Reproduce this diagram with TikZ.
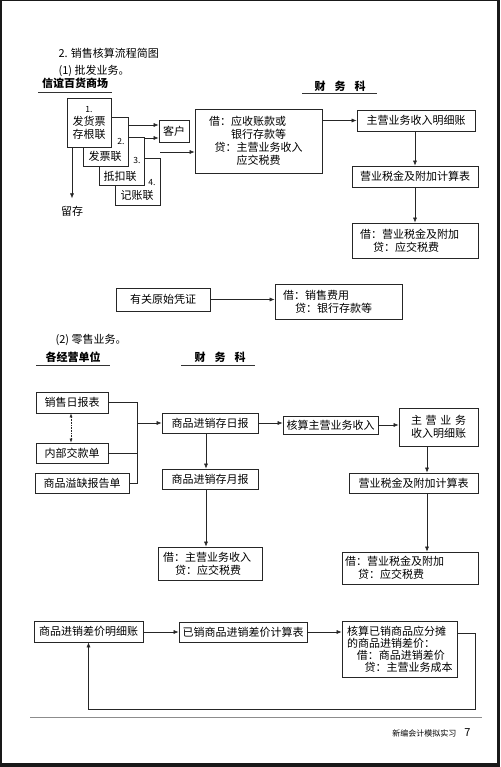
\documentclass[tikz,border=0pt]{standalone}
\usepackage{fontspec}
\setmainfont{Noto Sans CJK SC}
\usetikzlibrary{arrows.meta}

\tikzset{
  box/.style={draw=black!85, line width=0.7pt, fill=white, inner sep=1pt, align=center},
  arr/.style={draw=black!85, line width=0.6pt, -{Latex[length=5pt, width=4pt]}},
  darr/.style={draw=black!85, line width=0.6pt, densely dotted,
    {Latex[length=4pt, width=3pt]}-{Latex[length=4pt, width=3pt]}},
  wire/.style={draw=black!85, line width=0.6pt},
  num/.style={font=\fontsize{8.5}{10}\selectfont},
  head/.style={anchor=west},
  rule/.style={draw=black!80, line width=0.6pt},
}

\begin{document}
\begin{tikzpicture}[x=1pt, y=-1pt, font=\fontsize{11}{13}\selectfont]

    % Page frame
    \fill[black!90] (0,0) rectangle (500,767);
    \fill[white] (2,1.5) rectangle (497,763);
    \useasboundingbox (0,0) rectangle (500,767);

    % Headings
    \node[head] (title) at (55,53) {2. 销售核算流程简图};
    \node[head] (pifa) at (55,71) {(1) 批发业务。};
    \node[font=\fontsize{11}{13}\bfseries] (shangchang) at (75,83) {信谊百货商场};
    \draw[rule] (38,92) -- (112,92);
    \node[font=\fontsize{11}{13}\bfseries] (caiwuA) at (340,86) {财\hspace{9pt}务\hspace{9pt}科};
    \draw[rule] (302,93) -- (377,93);

    % Invoice copies (back to front)
    \node[box, minimum width=45pt, minimum height=47pt] (jizhang) at (137.5,181.5) {};
    \node[num] (n4) at (152,183) {4.};
    \node (jz) at (137,195) {记账联};
    \node[box, minimum width=45pt, minimum height=48pt] (dikou) at (121.5,161) {};
    \node[num] (n3) at (137,160) {3.};
    \node (dk) at (120,176) {抵扣联};
    \node[box, minimum width=45pt, minimum height=49pt] (fapiao) at (105.5,141.5) {};
    \node[num] (n2) at (121,141) {2.};
    \node (fp) at (105,156) {发票联};
    \node[box, minimum width=44pt, minimum height=49pt] (cungen) at (89,122.5)
        {{\fontsize{8.5}{10}\selectfont 1.}\\发货票\\存根联};

    \node[box, minimum width=30pt, minimum height=22pt] (kehu) at (174,131) {客户};
    \node (liucun) at (72,211) {留存};

    % Journal boxes (wholesale)
    \node[box, align=left, inner xsep=14pt, text width=99pt, minimum height=64pt] (jiedai1) at (258.5,141)
        {借：应收账款或\\\hspace*{2em}银行存款等\\\hspace*{0.5em}贷：主营业务收入\\\hspace*{2.5em}应交税费};
    \node[box, minimum width=118pt, minimum height=21pt] (mingxi1) at (416,120.5) {主营业务收入明细账};
    \node[box, minimum width=126pt, minimum height=21pt] (shuijin1) at (415,176.5) {营业税金及附加计算表};
    \node[box, align=left, inner xsep=8pt, text width=110pt, minimum height=35pt] (jiedai2) at (415,240.5)
        {借：营业税金及附加\\\hspace*{1.2em}贷：应交税费};

    \coordinate (k1) at ([yshift=6pt]kehu.west);
    \coordinate (k2) at ([yshift=-7pt]kehu.west);
    \coordinate (j1) at ([yshift=-11pt]jiedai1.west);
    \draw[arr] (fapiao.east |- k1) -- (k1);
    \draw[arr] (dikou.east |- k2) -- (k2);
    \draw[arr] (jizhang.east |- j1) -- (j1);
    \draw[arr] (cungen.south -| liucun.north) -- ([yshift=4pt]liucun.north);
    \draw[arr] (jiedai1.east |- mingxi1.west) -- (mingxi1.west);
    \draw[arr] (mingxi1.south -| shuijin1.north) -- (shuijin1.north);
    \draw[arr] (shuijin1.south) -- (jiedai2.north);

    % Selling expenses
    \node[box, minimum width=94pt, minimum height=23pt] (yuanshi) at (163,299.5) {有关原始凭证};
    \node[box, align=left, inner xsep=8pt, text width=111pt, minimum height=35pt] (xiaoshou) at (338.5,301.5)
        {借：销售费用\\\hspace*{1.1em}贷：银行存款等};
    \draw[arr] (yuanshi.east) -- (xiaoshou.west |- yuanshi.east);

    % Retail headings
    \node[head] (lingshou) at (52,340) {(2) 零售业务。};
    \node[font=\fontsize{11}{13}\bfseries] (danwei) at (73,357) {各经营单位};
    \draw[rule] (36,365) -- (110,365);
    \node[font=\fontsize{11}{13}\bfseries] (caiwuB) at (220,357) {财\hspace{9pt}务\hspace{9pt}科};
    \draw[rule] (181,365) -- (255,365);

    % Retail boxes
    \node[box, minimum width=72pt, minimum height=21pt] (ribaobiao) at (72,402.5) {销售日报表};
    \node[box, minimum width=72pt, minimum height=20pt] (jiaokuan) at (72,453) {内部交款单};
    \node[box, minimum width=94pt, minimum height=20pt] (yique) at (82,483) {商品溢缺报告单};
    \node[box, minimum width=96pt, minimum height=20pt] (ribao) at (210,423) {商品进销存日报};
    \node[box, minimum width=96pt, minimum height=20pt] (yuebao) at (210,479) {商品进销存月报};
    \node[box, align=left, inner xsep=5pt, text width=94pt, minimum height=33pt] (jiedai3) at (210,563.5)
        {借：主营业务收入\\\hspace*{1.1em}贷：应交税费};
    \node[box, minimum width=95pt, minimum height=18pt] (hesuan) at (330.5,425) {核算主营业务收入};
    \node[box, minimum width=79pt, minimum height=38pt] (mingxi2) at (438.5,427)
        {\makebox[5em][s]{主\hfill 营\hfill 业\hfill 务}\\收入明细账};
    \node[box, minimum width=129pt, minimum height=20pt] (shuijin2) at (413.5,483) {营业税金及附加计算表};
    \node[box, align=left, inner xsep=3pt, text width=130pt, minimum height=32pt] (jiedai4) at (410,568)
        {借：营业税金及附加\\\hspace*{1.2em}贷：应交税费};

    \coordinate (jn) at (137,0);
    \coordinate (c1) at (206,0);
    \coordinate (c2) at (427,0);
    \draw[wire] (ribaobiao.east) -| (jn |- yique.east) -- (yique.east);
    \draw[wire] (jiaokuan.east) -- (jn |- jiaokuan.east);
    \draw[arr] (jn |- ribao.west) -- (ribao.west);
    \draw[darr] (ribaobiao.south -| 71,0) -- (jiaokuan.north -| 71,0);
    \draw[arr] (ribao.east) -- (hesuan.west |- ribao.east);
    \draw[arr] (hesuan.east) -- (mingxi2.west |- hesuan.east);
    \draw[arr] (ribao.south -| c1) -- (yuebao.north -| c1);
    \draw[arr] (yuebao.south -| c1) -- (jiedai3.north -| c1);
    \draw[arr] (mingxi2.south -| c2) -- (shuijin2.north -| c2);
    \draw[arr] (shuijin2.south -| c2) -- (jiedai4.north -| c2);

    % Price difference
    \node[box, minimum width=109pt, minimum height=21pt] (chajia) at (88.5,631.5) {商品进销差价明细账};
    \node[box, minimum width=128pt, minimum height=20pt] (jisuan) at (243,632) {已销商品进销差价计算表};
    \node[box, align=left, inner xsep=5pt, text width=105pt, minimum height=56pt,
        font=\fontsize{11}{12}\selectfont] (fentan) at (399.5,649)
        {核算已销商品应分摊\\的商品进销差价：\\\hspace*{0.9em}借：商品进销差价\\\hspace*{1.6em}贷：主营业务成本};
    \coordinate (fo) at ([yshift=16pt]fentan.east);
    \coordinate (fb) at (475,709);
    \draw[arr] (chajia.east |- jisuan.west) -- (jisuan.west);
    \draw[arr] (jisuan.east) -- (fentan.west |- jisuan.east);
    \draw[arr] (fo) -| (fb) -| (chajia.south);

    % Footer
    \draw[draw=black!45, line width=0.8pt] (30,717) -- (482,717);
    \node[anchor=east, font=\fontsize{8}{10}\selectfont] (footer) at (474,733)
        {新编会计模拟实习\hspace{8pt}{\fontsize{11}{12}\selectfont 7}};

\end{tikzpicture}
\end{document}
